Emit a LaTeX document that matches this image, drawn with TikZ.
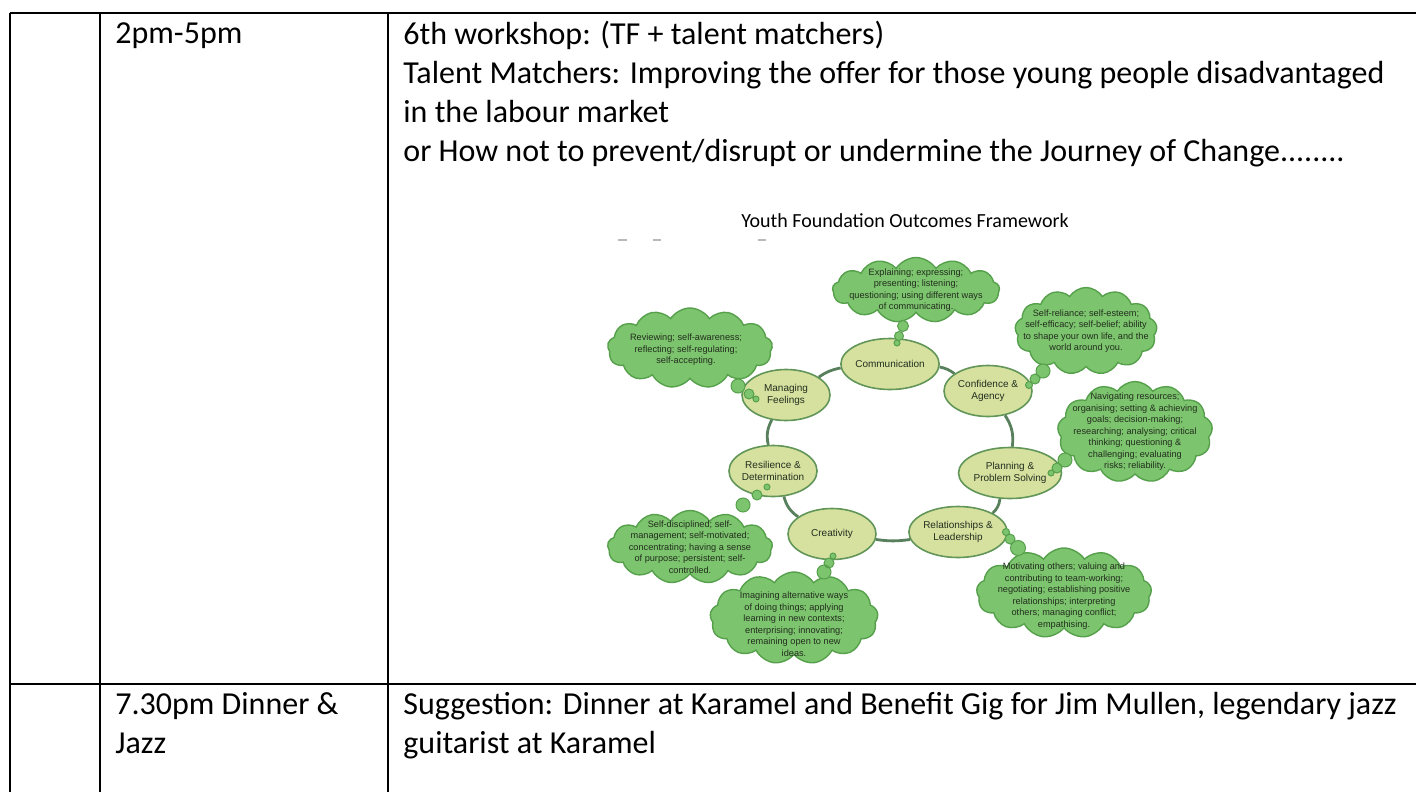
\documentclass[tikz,border=0pt]{standalone}
\usepackage{fontspec}
\setmainfont{Carlito}
\newfontfamily\shapefont{Liberation Sans}
\usetikzlibrary{shapes.symbols,shapes.geometric}
\definecolor{cloudgreen}{RGB}{125,196,110}
\definecolor{cloudedge}{RGB}{86,160,76}
\definecolor{ovalfill}{RGB}{214,225,160}
\definecolor{ovaledge}{RGB}{98,150,88}
\definecolor{linkgreen}{RGB}{88,128,92}
\definecolor{shapetext}{RGB}{34,46,30}
\begin{document}
\begin{tikzpicture}[x=0.5pt, y=-0.5pt,
    rule/.style={line width=1pt, black},
    celltext/.style={anchor=base west, inner sep=0pt, align=left, font=\fontsize{16}{19.5}\selectfont},
    outcome/.style={ellipse, draw=ovaledge, fill=ovalfill, line width=0.8pt, inner sep=0pt,
        minimum width=44pt, minimum height=25.5pt, align=center, text=shapetext,
        font=\shapefont\fontsize{5}{6}\selectfont},
    idea/.style={cloud, cloud puffs=13, cloud puff arc=115, cloud ignores aspect,
        draw=cloudedge, fill=cloudgreen, line width=0.7pt, inner sep=0pt},
    ideatext/.style={align=center, inner sep=0pt, text=shapetext,
        font=\shapefont\fontsize{4.6}{5.75}\selectfont},
    bubble/.style={draw=cloudedge, fill=cloudgreen, line width=0.5pt},
    link/.style={draw=linkgreen, line width=1.4pt}]
        \useasboundingbox (0,0) rectangle (1416,792);
        % table
        \draw[rule] (10,13) -- (1416,13);
        \draw[rule] (10,684) -- (1416,684);
        \draw[rule] (10,13) -- (10,792);
        \draw[rule] (100,13) -- (100,792);
        \draw[rule] (388,13) -- (388,792);
        % base of the last line
        \node[celltext] (timeA) at (115,44) {2pm-5pm};
        \node[celltext] (workshop) at (403,161) {6th workshop: (TF + talent matchers)\\
            Talent Matchers: Improving the offer for those young people disadvantaged\\
            in the labour market\\
            or How not to prevent/disrupt or undermine the Journey of Change........};
        \node[celltext] (timeB) at (115,753) {7.30pm Dinner \&\\ Jazz};
        \node[celltext] (dinner) at (403,753) {Suggestion: Dinner at Karamel and Benefit Gig for Jim Mullen, legendary jazz\\
            guitarist at Karamel};
        % framework
        \node[anchor=base, inner sep=0pt, font=\fontsize{10}{12}\selectfont] (title) at (905,227) {Youth Foundation Outcomes Framework};
        \draw[gray!55, line width=0.8pt] (618,240) -- (627,240);
        \draw[gray!55, line width=0.8pt] (653,240) -- (661,240);
        \draw[gray!55, line width=0.8pt] (758,240) -- (766,240);
        \node[idea, minimum width=83.5pt, minimum height=32.5pt] (commC) at (916,290) {};
        \node[idea, minimum width=82.5pt, minimum height=40pt] (manC) at (690,348) {};
        \node[idea, minimum width=71pt, minimum height=43.5pt] (confC) at (1086,331) {};
        \node[idea, minimum width=77.5pt, minimum height=50.5pt] (planC) at (1135,432) {};
        \node[idea, minimum width=87.5pt, minimum height=45pt] (relC) at (1064,593) {};
        \node[idea, minimum width=84pt, minimum height=46pt] (creaC) at (794,618) {};
        \node[idea, minimum width=82.5pt, minimum height=36.5pt] (resC) at (690,547) {};
        \node[ideatext] (commT) at (commC) {Explaining; expressing;\\ presenting; listening;\\ questioning; using different ways\\ of communicating.};
        \node[ideatext] (manT) at ([xshift=-2pt,yshift=-1pt]manC) {Reviewing; self-awareness;\\ reflecting; self-regulating;\\ self-accepting.};
        \node[ideatext] (confT) at (confC) {Self-reliance; self-esteem;\\ self-efficacy; self-belief; ability\\ to shape your own life, and the\\ world around you.};
        \node[ideatext] (planT) at (planC) {Navigating resources;\\ organising; setting \& achieving\\ goals; decision-making;\\ researching; analysing; critical\\ thinking; questioning \&\\ challenging; evaluating\\ risks; reliability.};
        \node[ideatext] (relT) at ([yshift=-1.5pt]relC) {Motivating others; valuing and\\ contributing to team-working;\\ negotiating; establishing positive\\ relationships; interpreting\\ others; managing conflict;\\ empathising.};
        \node[ideatext] (creaT) at ([yshift=-3pt]creaC) {Imagining alternative ways\\ of doing things; applying\\ learning in new contexts;\\ enterprising; innovating;\\ remaining open to new\\ ideas.};
        \node[ideatext] (resT) at (resC) {Self-disciplined; self-\\ management; self-motivated;\\ concentrating; having a sense\\ of purpose; persistent; self-\\ controlled.};
        \node[outcome] (comm) at (890,364) {Communication};
        \node[outcome] (conf) at (988,391) {Confidence \&\\ Agency};
        \node[outcome] (plan) at (1010,473) {Planning \&\\ Problem Solving};
        \node[outcome] (rel) at (958,532) {Relationships \&\\ Leadership};
        \node[outcome] (crea) at (832,534) {Creativity};
        \node[outcome] (res) at (773,471) {Resilience \&\\ Determination};
        \node[outcome] (man) at (786,395) {Managing\\ Feelings};
        \draw[link] (comm) to[bend left=12] (conf);
        \draw[link] (conf) to[bend left=20] (plan);
        \draw[link] (plan) to[bend left=20] (rel);
        \draw[link] (rel) to[bend left=8] (crea);
        \draw[link] (crea) to[bend left=20] (res);
        \draw[link] (res) to[bend left=20] (man);
        \draw[link] (man) to[bend left=12] (comm);
        % thought bubbles
        \filldraw[bubble] (903,326) circle (5.5) (899,336) circle (4.5) (897,343) circle (3);
        \filldraw[bubble] (738,386) circle (7) (749,394) circle (5) (756,399) circle (3);
        \filldraw[bubble] (1043,371) circle (7) (1035,379) circle (5) (1029,385) circle (3.5);
        \filldraw[bubble] (1065,460) circle (7) (1057,468) circle (5) (1051,473) circle (3);
        \filldraw[bubble] (1006,532) circle (3.5) (1010,539) circle (5) (1018,548) circle (7.5);
        \filldraw[bubble] (833,556) circle (3) (829,563) circle (5) (824,572) circle (7);
        \filldraw[bubble] (767,487) circle (3) (757,495) circle (5) (743,505) circle (7);
\end{tikzpicture}
\end{document}
